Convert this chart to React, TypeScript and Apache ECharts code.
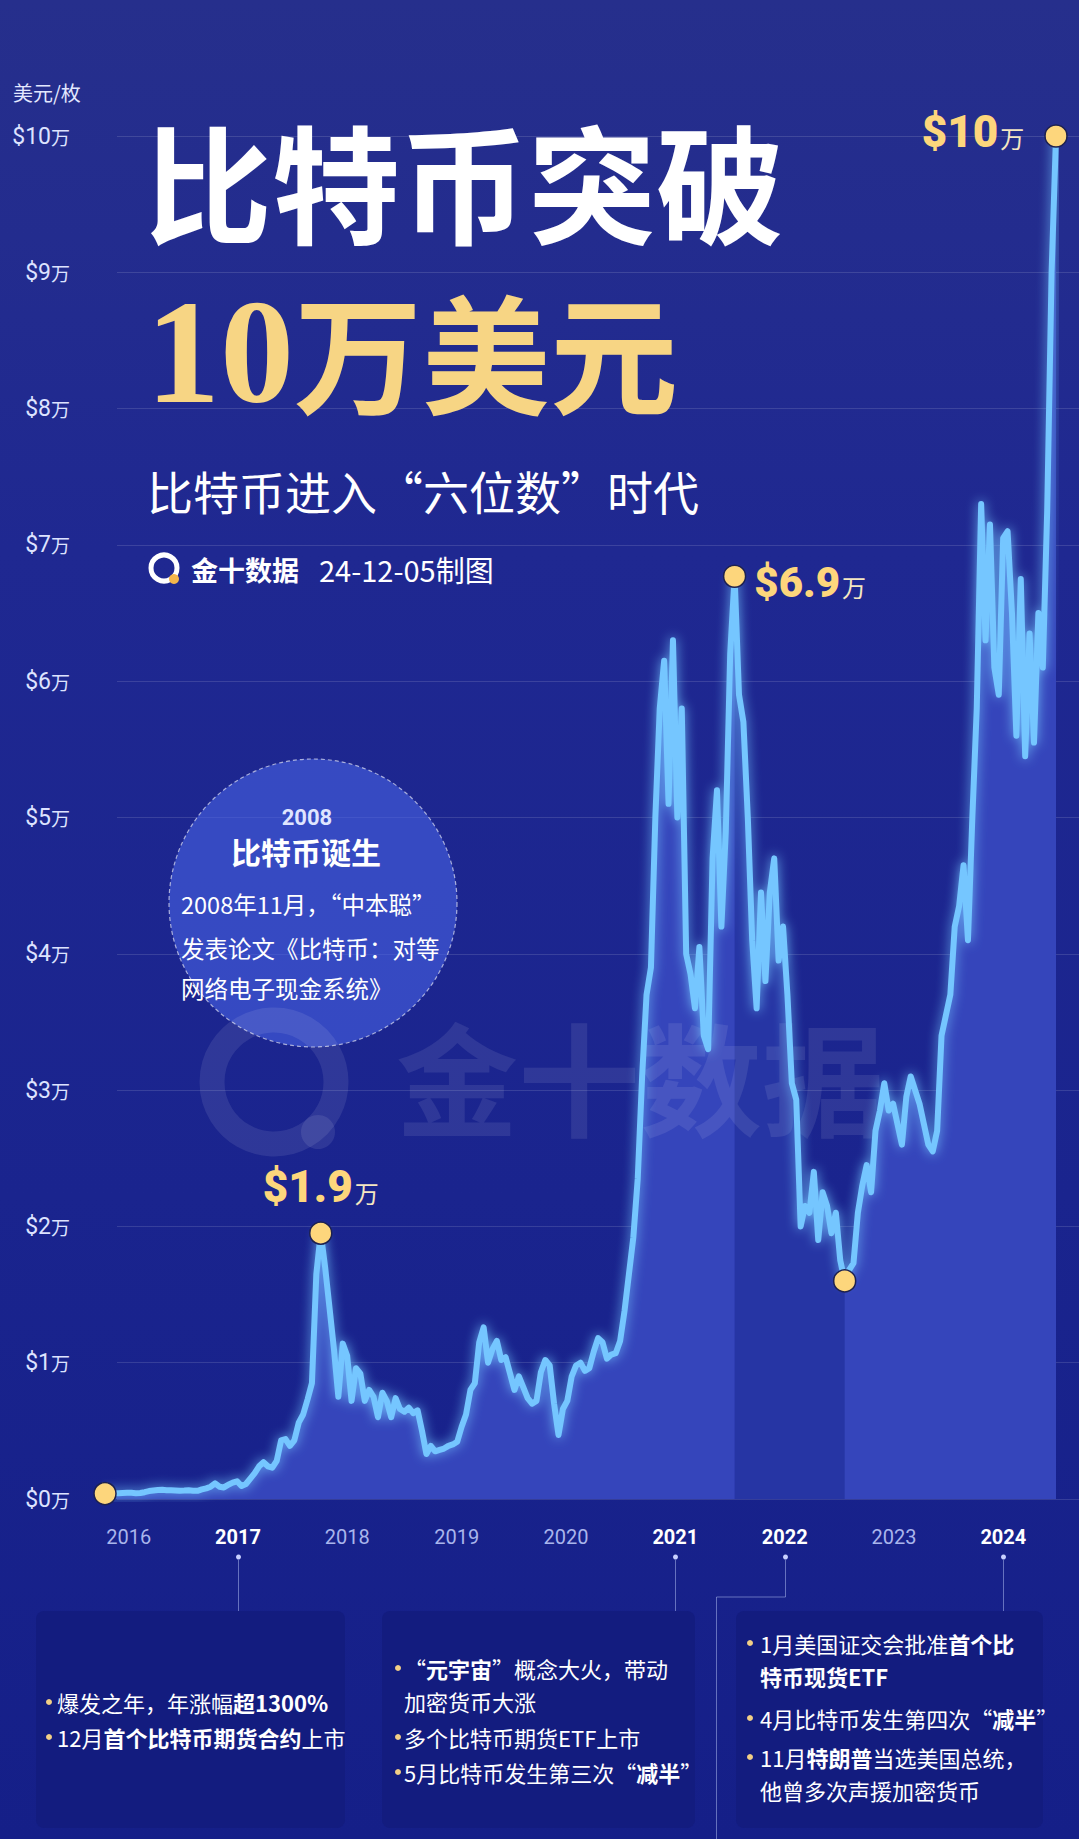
import React, { useEffect, useRef } from "react";
import * as echarts from "echarts";

// ---------- data ----------
const START_YEAR = 2015;
const START_MONTH = 12; // first half-month period: 2015-12 (1st half)

// BTC price (USD), two readings per month, Dec 2015 – Dec 2024
const prices: number[] = [
  400, 420, 430, 420, 440, 450, 450, 430, 440, 500,
  580, 620, 660, 680, 650, 640, 630, 610, 620, 640,
  610, 600, 700, 780, 900, 1150, 900, 850, 1050, 1200,
  1300, 950, 1100, 1500, 1900, 2400, 2700, 2400, 2300, 2800,
  4300, 4400, 3900, 4300, 5600, 6200, 7300, 8500, 16500, 19500,
  17000, 14000, 11000, 7500, 11400, 10500, 7200, 9600, 9200, 7200,
  8000, 7500, 6000, 7800, 7200, 6000, 7400, 6600, 6400, 6700,
  6300, 6500, 5000, 3300, 3900, 3500, 3600, 3700, 3900, 4000,
  4200, 5300, 6200, 8000, 8500, 11500, 12600, 10000, 11000, 11600,
  10200, 10400, 9200, 8000, 9000, 8200, 7400, 7000, 7200, 9300,
  10200, 9800, 7000, 4700, 6600, 7200, 9000, 9800, 10000, 9400,
  9600, 10800, 11800, 11500, 10300, 10600, 10700, 11600, 13800, 16500,
  19200, 23500, 31000, 37000, 39000, 50000, 58000, 61500, 51000, 63000,
  50000, 58000, 40000, 38500, 36000, 40500, 34000, 33000, 47000, 52000,
  42000, 49000, 62000, 67700, 59000, 57000, 50000, 41000, 36000, 44500,
  38000, 44500, 47000, 39500, 42000, 37000, 30500, 29300, 20000, 21500,
  21000, 24000, 19000, 22500, 21500, 19500, 21000, 17500, 16000, 16800,
  17300, 21000, 23000, 24500, 22500, 27000, 28500, 30500, 28500, 29000,
  27500, 26000, 29500, 31000, 30000, 29000, 27500, 26000, 25500, 27000,
  34000, 35500, 37000, 42000, 43500, 46500, 41000, 50000, 58000, 73000,
  63000, 71500, 61000, 59000, 70500, 71000, 65000, 56000, 67500, 54500,
  63500, 55500, 65000, 61000, 72500, 90000, 100000,
];

const categories: string[] = prices.map((_, i) => {
  const m = START_MONTH - 1 + Math.floor(i / 2);
  const y = START_YEAR + Math.floor(m / 12);
  const mm = String((m % 12) + 1).padStart(2, "0");
  return `${y}-${mm}-${i % 2 ? "16" : "01"}`;
});

const years = ["2016", "2017", "2018", "2019", "2020", "2021", "2022", "2023", "2024"];
const boldYears = ["2017", "2021", "2022", "2024"];

// key points (index into prices)
const START_IDX = 0;
const PEAK2017_IDX = 49;
const PEAK2021_IDX = 143;
const LOW2022_IDX = 168;
const END_IDX = prices.length - 1;
const peakLabels = { p2017: "$1.9", p2021: "$6.9", end: "$10" };

// ---------- styles ----------
const CJK = "'Noto Sans CJK SC', 'Noto Sans', sans-serif";
const NUM = "Roboto, 'Noto Sans', sans-serif";
const NARROW = "'Liberation Sans Narrow', Roboto, sans-serif";
const GOLD = "#fdd67c";
const TITLE_GOLD = "#f7d584";

const W = 1079;
const H = 1839;
const GRID_TOP = 136;
const GRID_BOTTOM = H - 1499;

function txt(x: number, y: number, text: string, style: any, extra: any = {}) {
  return { type: "text", x, y, style: { text, verticalAlign: "middle", align: "left", ...style }, ...extra };
}

function boxText(x: number, y: number, text: string) {
  return txt(x, y, text, {
    fill: "#ffffff",
    fontSize: 22,
    fontFamily: CJK,
    rich: { b: { fontSize: 22, fontWeight: "bold", fill: "#ffffff", fontFamily: CJK } },
  }, { z: 10 });
}
function bullet(x: number, y: number) {
  return { type: "circle", shape: { cx: x, cy: y, r: 3 }, style: { fill: "#f2cf86" }, z: 10 };
}

function buildStaticGraphics() {
  const els: any[] = [
    txt(13, 92, "美元/枚", { fill: "#e3e8ff", fontSize: 20, fontFamily: CJK }),
    // titles
    txt(144, 179, "比特币突破", { fill: "#ffffff", fontSize: 128, fontWeight: "bold", fontFamily: CJK }, { z: 10 }),
    txt(146, 352, "10", { fill: TITLE_GOLD, fontSize: 148, fontWeight: "bold", fontFamily: "'Liberation Serif', 'DejaVu Serif', serif" }, { z: 10 }),
    txt(294, 349, "万美元", { fill: TITLE_GOLD, fontSize: 128, fontWeight: "bold", fontFamily: CJK }, { z: 10 }),
    txt(147, 490, "比特币进入“六位数”时代", { fill: "#ffffff", fontSize: 46, fontFamily: CJK }, { z: 10 }),
    // logo line
    { type: "circle", shape: { cx: 164, cy: 568, r: 13 }, style: { fill: "none", stroke: "#ffffff", lineWidth: 5 }, z: 10 },
    { type: "circle", shape: { cx: 174, cy: 579, r: 5 }, style: { fill: "#f4b64c" }, z: 11 },
    txt(191, 569, "金十数据", { fill: "#ffffff", fontSize: 27, fontWeight: "bold", fontFamily: CJK }, { z: 10 }),
    txt(319, 569, "24-12-05制图", { fill: "#ffffff", fontSize: 29, fontFamily: CJK }, { z: 10 }),
    // circle info
    {
      type: "circle",
      shape: { cx: 313, cy: 903, r: 144 },
      style: { fill: "rgba(72,98,228,0.6)", stroke: "rgba(255,255,255,0.6)", lineWidth: 1.2, lineDash: [4, 3] },
      z: 1,
    },
    txt(307, 817, "2008", { fill: "#dfe5ff", fontSize: 22, fontWeight: "bold", fontFamily: NUM, align: "center" }, { z: 10 }),
    txt(306, 851, "比特币诞生", { fill: "#ffffff", fontSize: 30, fontWeight: "bold", fontFamily: CJK, align: "center" }, { z: 10 }),
    txt(181, 904, "2008年11月，“中本聪”", { fill: "#ffffff", fontSize: 23.5, fontFamily: CJK }, { z: 10 }),
    txt(181, 948, "发表论文《比特币：对等", { fill: "#ffffff", fontSize: 23.5, fontFamily: CJK }, { z: 10 }),
    txt(181, 988, "网络电子现金系统》", { fill: "#ffffff", fontSize: 23.5, fontFamily: CJK }, { z: 10 }),
    // watermark
    { type: "circle", shape: { cx: 274, cy: 1082, r: 62 }, style: { fill: "none", stroke: "rgba(255,255,255,0.09)", lineWidth: 25 }, z: 4 },
    { type: "circle", shape: { cx: 318, cy: 1132, r: 17 }, style: { fill: "rgba(255,255,255,0.09)" }, z: 4 },
    txt(396, 1073, "金十数据", { fill: "rgba(255,255,255,0.09)", fontSize: 122, fontWeight: "bold", fontFamily: CJK }, { z: 4 }),
    // boxes
    { type: "rect", shape: { x: 36, y: 1611, width: 309, height: 217, r: 8 }, style: { fill: "#131c7f" }, z: 9 },
    { type: "rect", shape: { x: 382, y: 1611, width: 313, height: 217, r: 8 }, style: { fill: "#131c7f" }, z: 9 },
    { type: "rect", shape: { x: 736, y: 1611, width: 307, height: 217, r: 8 }, style: { fill: "#131c7f" }, z: 9 },
    bullet(49, 1702), boxText(57, 1702, "爆发之年，年涨幅{b|超1300%}"),
    bullet(49, 1737), boxText(57, 1737, "12月{b|首个比特币期货合约}上市"),
    bullet(398, 1668), boxText(404, 1668, "“{b|元宇宙}”概念大火，带动"),
    boxText(404, 1701, "加密货币大涨"),
    bullet(398, 1737), boxText(404, 1737, "多个比特币期货ETF上市"),
    bullet(398, 1772), boxText(404, 1772, "5月比特币发生第三次“{b|减半}”"),
    bullet(750, 1643), boxText(760, 1643, "1月美国证交会批准{b|首个比}"),
    boxText(760, 1676, "{b|特币现货ETF}"),
    bullet(750, 1718), boxText(760, 1718, "4月比特币发生第四次“{b|减半}”"),
    bullet(750, 1757), boxText(760, 1757, "11月{b|特朗普}当选美国总统，"),
    boxText(760, 1790, "他曾多次声援加密货币"),
  ];
  return els.map((e, i) => ({ id: "g" + i, ...e }));
}

function buildConnectors(xs: Record<string, number>) {
  const lineStyle = { stroke: "rgba(200,212,255,0.45)", lineWidth: 1, fill: "none" };
  const els: any[] = [];
  boldYears.forEach((y) => {
    const x = Math.round(xs[y]) + 0.5;
    els.push({ type: "circle", shape: { cx: x, cy: 1557, r: 2.5 }, style: { fill: "#c9d1ff" }, z: 8 });
    if (y === "2022") {
      els.push({ type: "polyline", shape: { points: [[x, 1560], [x, 1597], [716.5, 1597], [716.5, H]] }, style: lineStyle, z: 8 });
    } else {
      els.push({ type: "line", shape: { x1: x, y1: 1560, x2: x, y2: 1611 }, style: lineStyle, z: 8 });
    }
  });
  return els.map((e, i) => ({ id: "c" + i, ...e }));
}

function buildOption() {
  const bandData = prices.map((v, i) => (i >= PEAK2021_IDX && i <= LOW2022_IDX ? v : null));
  const labelRich = {
    a: { fontSize: 44, fontWeight: 900, fontFamily: NUM, color: GOLD, verticalAlign: "bottom" },
    s: { fontSize: 42, fontWeight: 900, fontFamily: NUM, color: GOLD, verticalAlign: "bottom" },
    b: { fontSize: 24, fontFamily: CJK, color: "#f5e7c2", verticalAlign: "bottom", padding: [0, 0, 5, 2] },
  };
  const pt = (i: number, label: any) => ({ coord: [categories[i], prices[i]], label });
  return {
    animation: false,
    backgroundColor: "transparent",
    grid: [
      { left: 105, right: 23, top: GRID_TOP, bottom: GRID_BOTTOM },
      { left: 74, right: 21, top: GRID_TOP, bottom: GRID_BOTTOM },
      { left: 117, right: 0, top: GRID_TOP, bottom: GRID_BOTTOM },
    ],
    xAxis: [
      { type: "category", gridIndex: 0, data: categories, boundaryGap: false, show: false },
      {
        type: "category",
        gridIndex: 1,
        boundaryGap: true,
        data: years.map((y) => ({
          value: y,
          textStyle: boldYears.includes(y)
            ? { color: "#ffffff", fontWeight: "bold", fontSize: 20, fontFamily: NARROW }
            : { color: "#a9b5ec", fontWeight: "normal", fontSize: 20, fontFamily: NARROW },
        })),
        axisLine: { show: false },
        axisTick: { show: false },
        splitLine: { show: false },
        axisLabel: { margin: 28, interval: 0 },
      },
      { type: "value", gridIndex: 2, min: 0, max: 1, show: false },
    ],
    yAxis: [
      { type: "value", gridIndex: 0, min: 0, max: 100000, show: false },
      { type: "value", gridIndex: 1, min: 0, max: 100000, show: false },
      {
        type: "value",
        gridIndex: 2,
        min: 0,
        max: 100000,
        interval: 10000,
        axisLine: { show: false },
        axisTick: { show: false },
        splitLine: { lineStyle: { color: "rgba(255,255,255,0.13)", width: 1 } },
        axisLabel: {
          margin: 47,
          formatter: (v: number) => `{a|$${v / 10000}}{b|万}`,
          rich: {
            a: { fontSize: 23, fontFamily: NARROW, color: "#dde3ff", verticalAlign: "bottom" },
            b: { fontSize: 19, fontFamily: CJK, color: "#dde3ff", verticalAlign: "bottom", padding: [0, 0, 2, 0] },
          },
        },
      },
    ],
    series: [
      {
        type: "line",
        data: prices,
        symbol: "none",
        silent: true,
        lineStyle: { width: 0, opacity: 0 },
        areaStyle: { color: "#3545bb", opacity: 1 },
        z: 2,
      },
      {
        type: "line",
        data: bandData,
        symbol: "none",
        silent: true,
        lineStyle: { width: 0, opacity: 0 },
        areaStyle: { color: "#2635a4", opacity: 1 },
        z: 3,
      },
      {
        type: "line",
        data: prices,
        symbol: "none",
        silent: true,
        lineStyle: {
          color: "#74c6ff",
          width: 6,
          cap: "round",
          join: "round",
          shadowBlur: 12,
          shadowColor: "rgba(116,198,255,0.85)",
        },
        z: 5,
        markPoint: {
          symbol: "circle",
          symbolSize: 22,
          silent: true,
          itemStyle: { color: GOLD, borderColor: "#1d2150", borderWidth: 1.5 },
          z: 6,
          data: [
            pt(START_IDX, { show: false }),
            pt(LOW2022_IDX, { show: false }),
            pt(PEAK2017_IDX, { show: true, position: "top", distance: 12, formatter: `{a|${peakLabels.p2017}}{b|万}`, rich: labelRich }),
            pt(PEAK2021_IDX, { show: true, position: "right", distance: 8, offset: [0, 6], formatter: `{s|${peakLabels.p2021}}{b|万}`, rich: labelRich }),
            pt(END_IDX, { show: true, position: "left", distance: 20, offset: [0, -4], formatter: `{a|${peakLabels.end}}{b|万}`, rich: labelRich }),
          ],
        },
      },
    ],
    graphic: { elements: buildStaticGraphics() },
  };
}

export default function App() {
  const ref = useRef<HTMLDivElement>(null);
  useEffect(() => {
    document.body.style.margin = "0";
    const chart = echarts.init(ref.current!, undefined, { renderer: "svg" });
    chart.setOption(buildOption() as any);
    const xs: Record<string, number> = {};
    years.forEach((y) => {
      xs[y] = chart.convertToPixel({ xAxisIndex: 1 }, y) as unknown as number;
    });
    chart.setOption({ graphic: { elements: buildConnectors(xs) } } as any);
    return () => chart.dispose();
  }, []);
  return (
    <div
      ref={ref}
      style={{
        width: W,
        height: H,
        background: "linear-gradient(180deg, #262f8c 0%, #1f2891 30%, #1a248e 65%, #151f88 100%)",
      }}
    />
  );
}
